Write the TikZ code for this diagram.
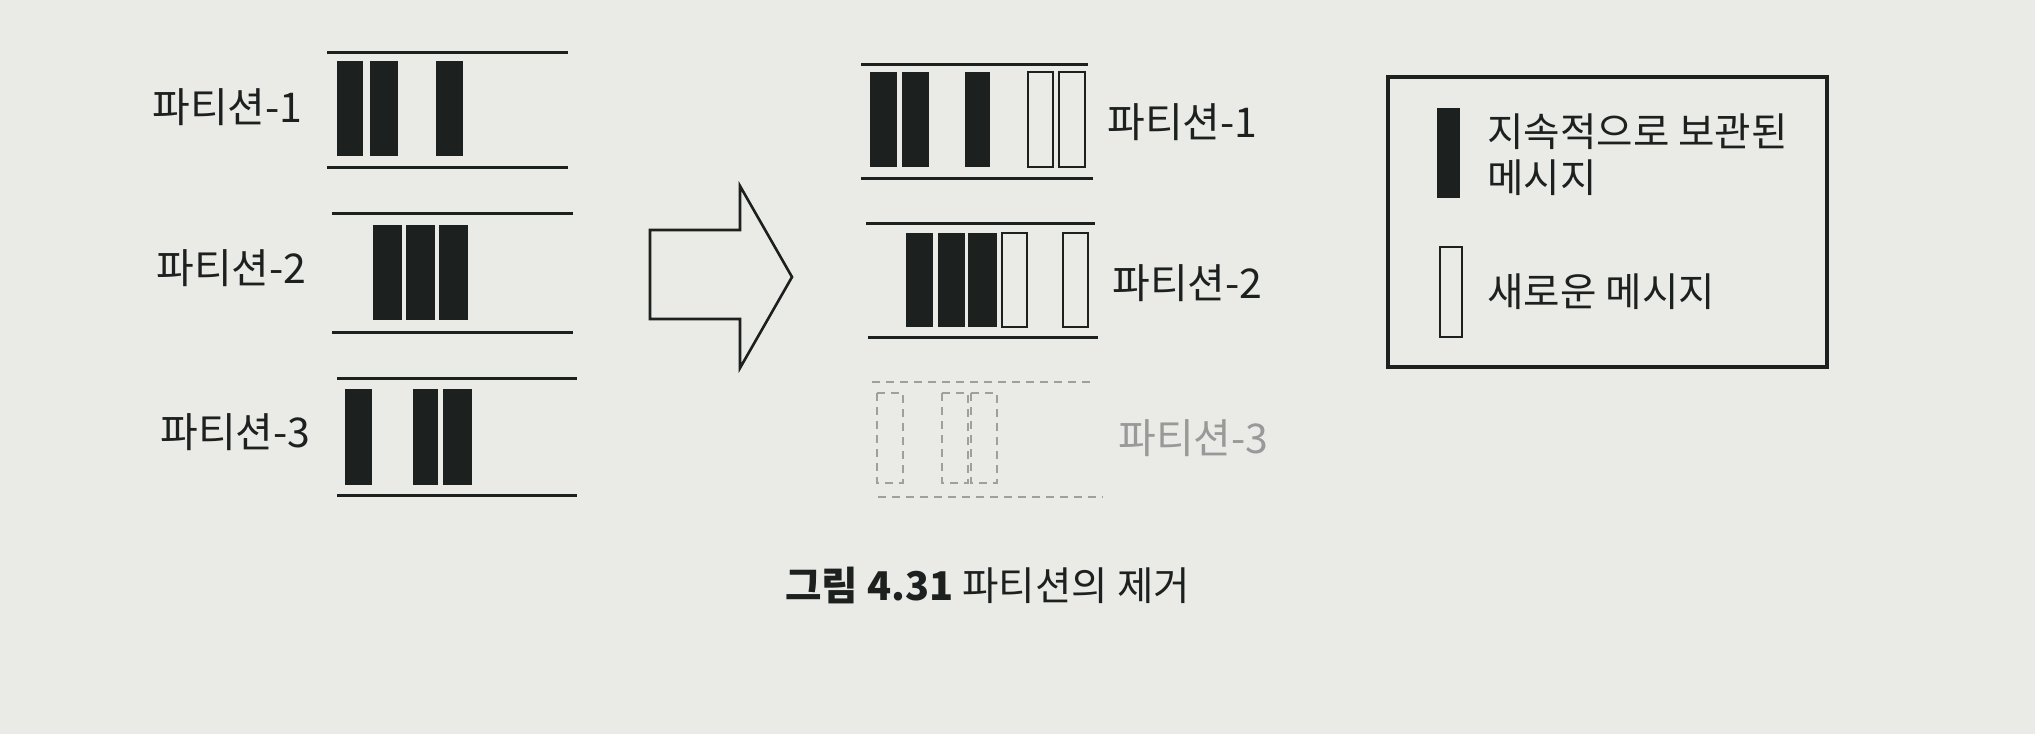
\documentclass[tikz,border=0pt]{standalone}
\usepackage{fontspec}
\newfontfamily\kr{Noto Sans CJK KR}
\definecolor{paper}{RGB}{234,234,231}
\definecolor{ink}{RGB}{28,32,30}
\tikzset{
  pline/.style={line width=1.5pt, draw=ink},
  oldmsg/.style={fill=ink, draw=none},
  newmsg/.style={draw=ink, line width=1.1pt, fill=none},
  gone/.style={draw=gray!75, line width=1.2pt, dash pattern=on 4pt off 3pt},
  lbl/.style={font=\kr\fontsize{20.5}{23}\selectfont, text=ink, inner sep=0pt},
  keytext/.style={font=\kr\fontsize{19.8}{23}\selectfont, text=ink, inner sep=0pt},
}
\begin{document}
\begin{tikzpicture}[x=0.5pt, y=-0.5pt]
\fill[paper] (0,0) rectangle (2035,734);
\useasboundingbox (0,0) rectangle (2035,734);

% ---- left: before ----
\node[lbl, anchor=west] (l1) at (152,107) {파티션-1};
\draw[pline] (327,52) -- (568,52);
\draw[pline] (327,167) -- (568,167);
\fill[oldmsg] (337,61) rectangle (363,156);
\fill[oldmsg] (370,61) rectangle (398,156);
\fill[oldmsg] (436,61) rectangle (463,156);

\node[lbl, anchor=west] (l2) at (156,268) {파티션-2};
\draw[pline] (332,213) -- (573,213);
\draw[pline] (332,332) -- (573,332);
\fill[oldmsg] (373,225) rectangle (402,320);
\fill[oldmsg] (406,225) rectangle (435,320);
\fill[oldmsg] (439,225) rectangle (468,320);

\node[lbl, anchor=west] (l3) at (160,432) {파티션-3};
\draw[pline] (337,378) -- (577,378);
\draw[pline] (337,495) -- (577,495);
\fill[oldmsg] (345,389) rectangle (372,485);
\fill[oldmsg] (413,389) rectangle (438,485);
\fill[oldmsg] (443,389) rectangle (472,485);

% ---- big arrow ----
\draw[line width=1.3pt, draw=ink] (650,230) -- (740,230) -- (740,186) -- (792,277)
  -- (740,368) -- (740,319) -- (650,319) -- cycle;

% ---- right: after ----
\node[lbl, anchor=west] (r1) at (1107,122) {파티션-1};
\draw[pline] (861,64) -- (1088,64);
\draw[pline] (861,178) -- (1093,178);
\fill[oldmsg] (870,72) rectangle (897,167);
\fill[oldmsg] (902,72) rectangle (929,167);
\fill[oldmsg] (965,72) rectangle (990,167);
\draw[newmsg] (1028,72) rectangle (1053,167);
\draw[newmsg] (1059,72) rectangle (1085,167);

\node[lbl, anchor=west] (r2) at (1112,283) {파티션-2};
\draw[pline] (866,223) -- (1095,223);
\draw[pline] (868,337) -- (1098,337);
\fill[oldmsg] (906,233) rectangle (933,327);
\fill[oldmsg] (938,233) rectangle (965,327);
\fill[oldmsg] (968,233) rectangle (997,327);
\draw[newmsg] (1002,233) rectangle (1027,327);
\draw[newmsg] (1063,233) rectangle (1088,327);

\node[lbl, anchor=west, text=gray!80] (r3) at (1118,438) {파티션-3};
\draw[gone] (872,382) -- (1095,382);
\draw[gone] (878,497) -- (1103,497);
\draw[gone] (877,393) rectangle (903,483);
\draw[gone] (942,393) rectangle (968,483);
\draw[gone] (971,393) rectangle (997,483);

% ---- legend ----
\draw[line width=1.6pt, draw=ink] (1388,77) rectangle (1827,367);
\fill[oldmsg] (1437,108) rectangle (1460,198);
\node[keytext, anchor=west] (k1) at (1487,132) {지속적으로 보관된};
\node[keytext, anchor=west] (k1b) at (1487,178) {메시지};
\draw[newmsg] (1440,247) rectangle (1462,337);
\node[keytext, anchor=west] (k2) at (1487,292) {새로운 메시지};

% ---- caption ----
\node[keytext, anchor=west] (cap) at (785,585) {\textbf{그림 4.31} 파티션의 제거};
\end{tikzpicture}
\end{document}
